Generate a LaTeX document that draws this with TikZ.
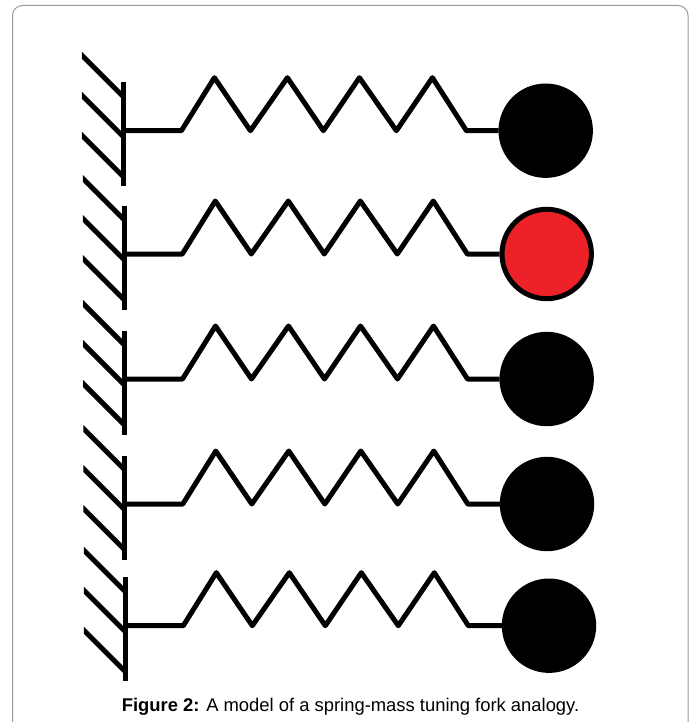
\documentclass[tikz,border=0pt]{standalone}
\usepackage{fontspec}
\usetikzlibrary{calc}
\setmainfont{Liberation Sans}
\definecolor{massred}{HTML}{ED2229}
\definecolor{framegray}{HTML}{9A9A9A}
\begin{document}
\begin{tikzpicture}[x=1pt,y=-1pt,
  mech/.style={line width=5pt,black,line cap=butt,line join=round},
  hatch/.style={line width=5pt,black,line cap=butt},
  massnode/.style={circle,draw=black,line width=5pt,minimum size=89.4pt,inner sep=0pt,fill=#1},
  frameline/.style={draw=framegray,line width=1pt,rounded corners=10pt},
  captiontext/.style={font=\fontsize{18.4pt}{22pt}\selectfont,inner sep=0pt,anchor=base}]
\useasboundingbox (0,0) rectangle (694,722);
\fill[white] (0,0) rectangle (694,722);
\draw[frameline] (12.5,730) -- (12.5,5.5) -- (688,5.5) -- (688,730);
\foreach \i/\wx/\wy/\mx/\col in {1/123.4/130.7/545.7/black,2/124.3/254/546.7/massred,3/124.5/379/546.7/black,4/124.8/504/547/black,5/125.3/625.7/549/black}{
  \coordinate (w\i) at (\wx,\wy);
  \coordinate (wt\i) at (\wx,\wy-48.5);
  \coordinate (wb\i) at (\wx,\wy+55.5);
  \node[massnode=\col] (m\i) at (\mx,\wy) {};
  \begin{scope}
    \clip ($(w\i)+(-41.5,-90)$) rectangle ($(w\i)+(0,60)$);
    \foreach \d in {-75,-35,5}{
      \draw[hatch] ($(w\i)+(-45,\d-4)$) -- ($(w\i)+(0,\d+41)$);
    }
  \end{scope}
  \draw[mech] (wt\i) -- (wb\i);
  \draw[mech] (w\i) -- ++(58,0) -- ++(33,-53) -- ++(36,53) -- ++(37,-53) -- ++(36,53) -- ++(36,-53) -- ++(37,53) -- ++(36,-53) -- ++(34,53) -- (m\i.west);
}
\node[captiontext] (cap) at (350.5,711) {\textbf{Figure 2:} A model of a spring-mass tuning fork analogy.};
\end{tikzpicture}
\end{document}
